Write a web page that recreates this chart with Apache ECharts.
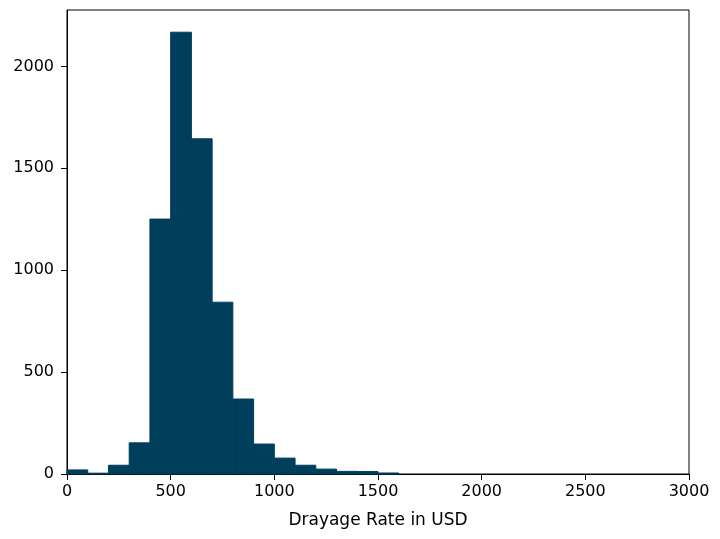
<!DOCTYPE html>
<html>
<head>
<meta charset="utf-8">
<script src="https://cdn.jsdelivr.net/npm/echarts@6/dist/echarts.min.js"></script>
<style>html,body{margin:0;padding:0;background:#fff}#c{width:720px;height:539px}</style>
</head>
<body>
<div id="c"></div>
<script>
// Histogram bins (USD), bin width 100
var binStarts = [0, 100, 200, 300, 400, 500, 600, 700, 800, 900, 1000, 1100, 1200, 1300, 1400, 1500];
var binEnds   = [100, 200, 300, 400, 500, 600, 700, 800, 900, 1000, 1100, 1200, 1300, 1400, 1500, 1600];
var counts    = [20, 4, 43, 153, 1251, 2168, 1645, 843, 368, 147, 78, 43, 24, 13, 12, 5];
var xTicks = [0, 500, 1000, 1500, 2000, 2500, 3000];
var yTicks = [0, 500, 1000, 1500, 2000];

var data = binStarts.map(function (s, i) { return [s, binEnds[i], counts[i]]; });

var chart = echarts.init(document.getElementById('c'), null, {renderer: 'canvas'});
var font = 'DejaVu Sans';
function plain(v) { return String(v); }
chart.setOption({
  animation: false,
  backgroundColor: '#ffffff',
  grid: {left: 67, right: 31, top: 10, bottom: 65, show: true, borderColor: '#000', borderWidth: 1, backgroundColor: 'transparent'},
  xAxis: {
    type: 'value', min: 0, max: 3000, interval: 500,
    name: 'Drayage Rate in USD', nameLocation: 'middle', nameGap: 38,
    nameTextStyle: {fontFamily: font, fontSize: 17, color: '#000'},
    axisLine: {show: true, onZero: false, lineStyle: {color: '#000', width: 1}},
    axisTick: {show: true, inside: false, length: 6, lineStyle: {color: '#000'}, customValues: xTicks},
    axisLabel: {fontFamily: font, fontSize: 16, color: '#000', margin: 10, customValues: xTicks, formatter: plain},
    splitLine: {show: false}
  },
  yAxis: {
    type: 'value', min: 0, max: 2277, interval: 500,
    axisLine: {show: true, lineStyle: {color: '#000', width: 1}},
    axisTick: {show: true, inside: false, length: 6, lineStyle: {color: '#000'}, customValues: yTicks},
    axisLabel: {fontFamily: font, fontSize: 16, color: '#000', margin: 13, customValues: yTicks, formatter: plain},
    splitLine: {show: false}
  },
  series: [{
    type: 'custom',
    data: data,
    encode: {x: [0, 1], y: 2},
    renderItem: function (params, api) {
      var p0 = api.coord([api.value(0), api.value(2)]);
      var p1 = api.coord([api.value(1), 0]);
      return {
        type: 'rect',
        shape: {x: p0[0], y: p0[1], width: p1[0] - p0[0], height: p1[1] - p0[1]},
        style: {fill: '#003f5c', stroke: '#003f5c', lineWidth: 1}
      };
    }
  }]
});
</script>
</body>
</html>
